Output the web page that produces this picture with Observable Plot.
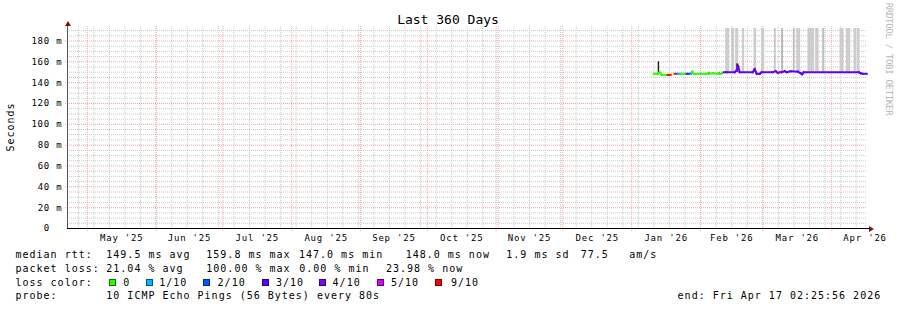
<!DOCTYPE html>
<html><head><meta charset="utf-8">
<script src="https://cdn.jsdelivr.net/npm/d3@7"></script>
<script src="https://cdn.jsdelivr.net/npm/@observablehq/plot@0.6"></script>
<style>
html,body{margin:0;padding:0;background:#fff;}
#wrap{position:relative;width:897px;height:310px;overflow:hidden;background:#fff;font-family:"DejaVu Sans Mono",monospace;color:#000;}
#wrap svg{position:absolute;left:0;top:0;overflow:visible;}
.t{position:absolute;white-space:pre;font-size:10px;letter-spacing:1px;line-height:14px;}
.sw{position:absolute;width:7px;height:7px;box-sizing:border-box;border:1px solid rgba(0,0,0,0.55);}
#title{position:absolute;left:0;top:12px;width:896px;text-align:center;font-size:13px;line-height:15px;white-space:pre;}
#ylab{position:absolute;left:10.5px;top:126.5px;transform:translate(-50%,-50%) rotate(-90deg);font-size:10px;letter-spacing:1px;line-height:14px;white-space:pre;}
#wm{position:absolute;left:888.3px;top:59px;transform:translate(-50%,-50%) rotate(90deg);font-size:9px;letter-spacing:-0.3px;line-height:11px;white-space:pre;color:#b8b8b8;}
.arr{position:absolute;width:0;height:0;}
</style></head>
<body><div id="wrap"></div>
<script>
// ---------- data ----------
const title = "Last 360 Days";
const yLabel = "Seconds";
const xStart = "2025-04-22T02:25:56Z";
const xEnd = "2026-04-17T02:25:56Z";
const monthLabels = ["May '25","Jun '25","Jul '25","Aug '25","Sep '25","Oct '25","Nov '25","Dec '25","Jan '26","Feb '26","Mar '26","Apr '26"];
const yTickValues = [0,20,40,60,80,100,120,140,160,180];

const lossLabels = ["0","1/10","2/10","3/10","4/10","5/10","9/10"];
const lossColors = ["#26ff00","#00b8ff","#0059ff","#5e00ff","#7e00ff","#dd00ff","#ff0000"];

// median rtt (ms); null = no data; loss = index into lossLabels
const medianDates = ["2026-01-10T22:00Z","2026-01-12T17:00Z","2026-01-13T14:00Z","2026-01-14T12:00Z","2026-01-17T05:00Z","2026-01-18T13:00Z","2026-01-19T12:00Z","2026-01-20T08:00Z","2026-01-21T17:00Z","2026-01-23T01:00Z","2026-01-24T20:00Z","2026-01-25T18:00Z","2026-01-27T13:00Z","2026-01-28T05:00Z","2026-01-28T22:00Z","2026-02-03T07:00Z","2026-02-06T11:00Z","2026-02-10T01:00Z","2026-02-11T10:00Z","2026-02-12T18:00Z","2026-02-16T08:00Z","2026-02-17T06:00Z","2026-02-17T22:00Z","2026-02-18T14:00Z","2026-02-24T11:00Z","2026-02-25T08:00Z","2026-02-26T06:00Z","2026-02-27T14:00Z","2026-02-28T12:00Z","2026-03-05T11:00Z","2026-03-06T19:00Z","2026-03-07T17:00Z","2026-03-09T00:00Z","2026-03-09T12:00Z","2026-03-10T20:00Z","2026-03-11T18:00Z","2026-03-13T13:00Z","2026-03-16T17:00Z","2026-03-18T01:00Z","2026-03-18T17:00Z","2026-03-19T10:00Z","2026-04-13T04:00Z","2026-04-14T01:00Z","2026-04-14T23:00Z","2026-04-16T18:00Z"];
const medianValues = [148.5,148.5,150,147.5,147.5,147.5,null,148.5,148.5,148.5,148.5,148.5,148.5,150.5,148.5,148.5,149,148.5,150,150,150,152,156,150,150,153,148.5,148.5,150,150,151,149.5,150,150,151,150,151,150.5,149,148,150,150,149,148.5,148.5];
const medianLoss = [0,0,0,0,0,6,0,6,6,1,0,0,3,1,0,0,0,0,0,3,3,3,4,3,3,3,3,3,3,3,3,3,3,6,3,3,3,3,3,3,3,3,3,3,3];

// smoke (ping spread): from, to, low, high (ms), density 0..1
const smokeFrom = ["2026-01-12T22:00Z","2026-02-04T16:00Z","2026-02-09T07:00Z","2026-02-12T07:00Z","2026-02-14T21:00Z","2026-02-16T19:00Z","2026-02-19T20:00Z","2026-02-25T01:00Z","2026-02-28T09:00Z","2026-03-06T08:00Z","2026-03-09T12:00Z","2026-03-14T18:00Z","2026-03-16T06:00Z","2026-03-21T08:00Z","2026-03-22T06:00Z","2026-03-24T19:00Z","2026-03-27T23:00Z","2026-04-04T18:00Z","2026-04-07T15:00Z","2026-04-11T01:00Z","2026-04-12T14:00Z","2026-02-17T06:00Z","2026-02-25T08:00Z"];
const smokeTo = ["2026-01-13T14:00Z","2026-02-05T03:00Z","2026-02-09T18:00Z","2026-02-14T02:00Z","2026-02-16T08:00Z","2026-02-18T04:00Z","2026-02-20T20:00Z","2026-02-26T06:00Z","2026-03-01T20:00Z","2026-03-06T23:00Z","2026-03-10T06:00Z","2026-03-15T12:00Z","2026-03-18T01:00Z","2026-03-22T06:00Z","2026-03-24T08:00Z","2026-03-26T07:00Z","2026-03-28T20:00Z","2026-04-06T13:00Z","2026-04-09T13:00Z","2026-04-12T06:00Z","2026-04-13T18:00Z","2026-02-18T04:00Z","2026-02-25T20:00Z"];
const smokeLow = [148,147.5,147.5,150,150,150,150,150,150,150,150,150,150,150,150,150,150,150,150,150,150,150,150];
const smokeHigh = [160,150,150,192,192,192,192,192,192,192,192,192,192,192,192,192,192,192,192,192,192,158,153.5];
const smokeDensity = [0.95,0.9,0.9,0.05,0.05,0.05,0.05,0.05,0.05,0.15,0.2,0.15,0.05,0.08,0.05,0.05,0.12,0.05,0.05,0.05,0.05,0.95,0.9];

// legend text
const rttStats = ["149.5 ms avg","159.8 ms max","147.0 ms min","148.0 ms now","1.9 ms sd","77.5","am/s"];
const lossStats = ["21.04 % avg","100.00 % max","0.00 % min","23.98 % now"];
const probeText = "10 ICMP Echo Pings (56 Bytes) every 80s";
const endText = "end: Fri Apr 17 02:25:56 2026";

// ---------- build ----------
const wrap = document.getElementById("wrap");
const x0 = new Date(xStart), x1 = new Date(xEnd);
const monthStarts = d3.utcMonth.range(d3.utcMonth.ceil(x0), x1);
const monthMid = monthStarts.map(m => new Date((+m + +d3.utcMonth.offset(m, 1)) / 2));
const weekLines = d3.utcSunday.range(x0, x1);
const yMinor = d3.range(5, 195, 5).filter(v => v % 20 !== 0);
const yMajor = d3.range(20, 200, 20);

const pts = medianDates.map((d, i) => ({date: new Date(d), v: medianValues[i], loss: medianLoss[i]}));
const segs = [];
for (let i = 1; i < pts.length; i++) {
  if (pts[i-1].v == null || pts[i].v == null) continue;
  segs.push({a: pts[i-1].date, b: pts[i].date, ya: pts[i-1].v, yb: pts[i].v, c: lossColors[pts[i].loss]});
}
const smoke = smokeFrom.map((d, i) => ({a: new Date(d), b: new Date(smokeTo[i]), lo: smokeLow[i], hi: smokeHigh[i],
  c: d3.interpolateRgb("#d6d6d6", "#1a1a1a")(smokeDensity[i])}));

const chart = Plot.plot({
  width: 897, height: 250,
  marginTop: 28, marginBottom: 22, marginLeft: 67, marginRight: 30,
  style: {fontFamily: "'DejaVu Sans Mono', monospace", fontSize: "9px", letterSpacing: "0.8px", background: "transparent", color: "#000", overflow: "visible"},
  x: {type: "utc", domain: [x0, x1], ticks: monthMid, tickFormat: d => monthLabels[monthMid.findIndex(m => +m === +d)], tickSize: 0, tickPadding: 6, label: null},
  y: {domain: [0, 192], ticks: yTickValues, tickFormat: d => d === 0 ? "0\u00a0\u00a0" : d + " m", tickSize: 0, tickPadding: 5, label: null},
  color: {type: "identity"},
  marks: [
    Plot.ruleY(yMinor, {stroke: "#c8c8c8", strokeDasharray: "1,1"}),
    Plot.ruleX(weekLines, {stroke: "#c8c8c8", strokeDasharray: "1,1", insetTop: -2, insetBottom: -2}),
    Plot.ruleY(yMajor, {stroke: "#f4a4a4", strokeDasharray: "1,1", insetLeft: -2}),
    Plot.ruleX(monthStarts, {stroke: "#f4a4a4", strokeDasharray: "1,1", insetTop: -2, insetBottom: -3}),
    Plot.rect(smoke, {x1: "a", x2: "b", y1: "lo", y2: "hi", fill: "c"}),
    Plot.link(segs, {x1: "a", x2: "b", y1: "ya", y2: "yb", stroke: "c", strokeWidth: 2, strokeLinecap: "square"}),
    Plot.ruleX([x0], {stroke: "#555", insetTop: -5}),
    Plot.ruleY([0], {stroke: "#000", insetRight: -3})
  ]
});
wrap.appendChild(chart);

function addDiv(cls, text, left, top, extra) {
  const el = document.createElement("div");
  el.className = cls; el.textContent = text;
  el.style.left = left + "px"; el.style.top = top + "px";
  if (extra) Object.assign(el.style, extra);
  wrap.appendChild(el); return el;
}
const t = document.createElement("div"); t.id = "title"; t.textContent = title; wrap.appendChild(t);
const yl = document.createElement("div"); yl.id = "ylab"; yl.textContent = yLabel; wrap.appendChild(yl);
const wm = document.createElement("div"); wm.id = "wm"; wm.textContent = "RRDTOOL / TOBI OETIKER"; wrap.appendChild(wm);

// arrows
addDiv("arr", "", 64.5, 21, {borderLeft: "3px solid transparent", borderRight: "3px solid transparent", borderBottom: "5px solid #7a1414"});
addDiv("arr", "", 869, 225.5, {borderTop: "3px solid transparent", borderBottom: "3px solid transparent", borderLeft: "5px solid #7a1414"});

// legend
const L = [247.5, 261.5, 275.5, 289];
addDiv("t", "median rtt:", 15.5, L[0]);
[106.3, 206.3, 299, 405.7, 506.3, 580.7, 629.3].forEach((x, i) => addDiv("t", rttStats[i], x, L[0]));
addDiv("t", "packet loss:", 15.5, L[1]);
[106.3, 206.3, 299.3, 386].forEach((x, i) => addDiv("t", lossStats[i], x, L[1]));
addDiv("t", "loss color:", 15.5, L[2]);
const swX = [108.7, 145.7, 203.3, 261.7, 319, 376.7, 435];
const lbX = [123.3, 159.3, 217.6, 276, 332.6, 391, 451];
lossLabels.forEach((lab, i) => {
  addDiv("sw", "", swX[i], 278.5, {background: lossColors[i]});
  addDiv("t", lab, lbX[i], L[2]);
});
addDiv("t", "probe:", 15.5, L[3]);
addDiv("t", probeText, 106.3, L[3]);
addDiv("t", endText, 677.6, L[3]);
</script></body></html>
